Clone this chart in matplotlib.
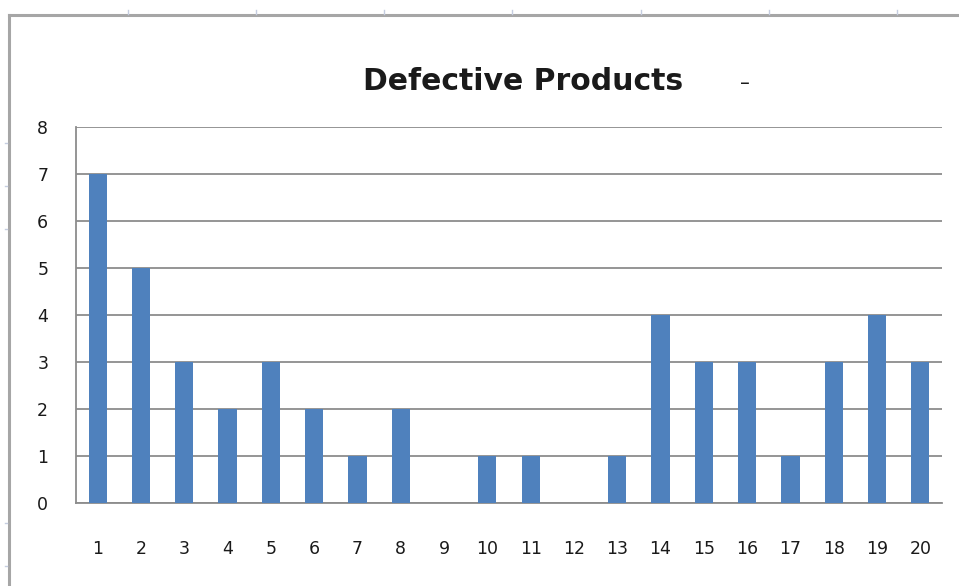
import numpy as np
import matplotlib
matplotlib.use("Agg")
import matplotlib.pyplot as plt
from matplotlib.lines import Line2D

samples = list(range(1, 21))
defects = [7, 5, 3, 2, 3, 2, 1, 2, 0, 1, 1, 0, 1, 4, 3, 3, 1, 3, 4, 3]
yticks = list(range(0, 9))

bar_color = "#4f81bd"
grid_color = "#8c8c8c"
text_color = "#1a1a1a"

plt.rcParams["font.family"] = ["DejaVu Sans"]

fig = plt.figure(figsize=(9.59, 5.86), dpi=100)
W, H = 959.0, 586.0

def fx(px):
    return px / W

def fy(py):
    return 1 - py / H

# chart frame: top and left border of the embedded chart object
fig.add_artist(Line2D([fx(9), 1], [fy(15), fy(15)], color="#a6a6a6", lw=2.2))
fig.add_artist(Line2D([fx(9), fx(9)], [fy(15), 0], color="#a6a6a6", lw=2.2))
# sheet column / row marks outside the frame
for cx in [128, 256, 384, 512, 641, 769, 897]:
    fig.add_artist(Line2D([fx(cx), fx(cx)], [fy(10), fy(14)], color="#c5cde0", lw=1))
for ry in [143, 186, 229, 523, 566]:
    fig.add_artist(Line2D([fx(5), fx(7)], [fy(ry), fy(ry)], color="#c5cde0", lw=1))

ax = fig.add_axes([fx(76), fy(503), fx(942) - fx(76), fy(127) - fy(503)])
ax.bar(samples, defects, width=0.42, color=bar_color, zorder=3)

ax.set_xlim(0.5, 20.5)
ax.set_ylim(0, 8)
ax.set_yticks(yticks)
ax.set_xticks(samples)
ax.set_xticklabels([str(s) for s in samples])
ax.yaxis.grid(True, color=grid_color, lw=1.3, zorder=0)
ax.set_axisbelow(True)

for side in ["top", "right"]:
    ax.spines[side].set_visible(False)
ax.spines["left"].set_color(grid_color)
ax.spines["left"].set_linewidth(1.3)
ax.spines["bottom"].set_color(grid_color)
ax.spines["bottom"].set_linewidth(1.3)

ax.tick_params(axis="both", length=0, labelsize=12.5, colors=text_color)
ax.tick_params(axis="y", pad=20)
ax.tick_params(axis="x", pad=27)

fig.text(fx(523), fy(82), "Defective Products", ha="center", va="center",
         fontsize=21.5, fontweight="bold", color=text_color)
fig.text(fx(745), fy(83), "\u2013", ha="center", va="center",
         fontsize=14, color=text_color)

fig.savefig("out.png", dpi=100)
